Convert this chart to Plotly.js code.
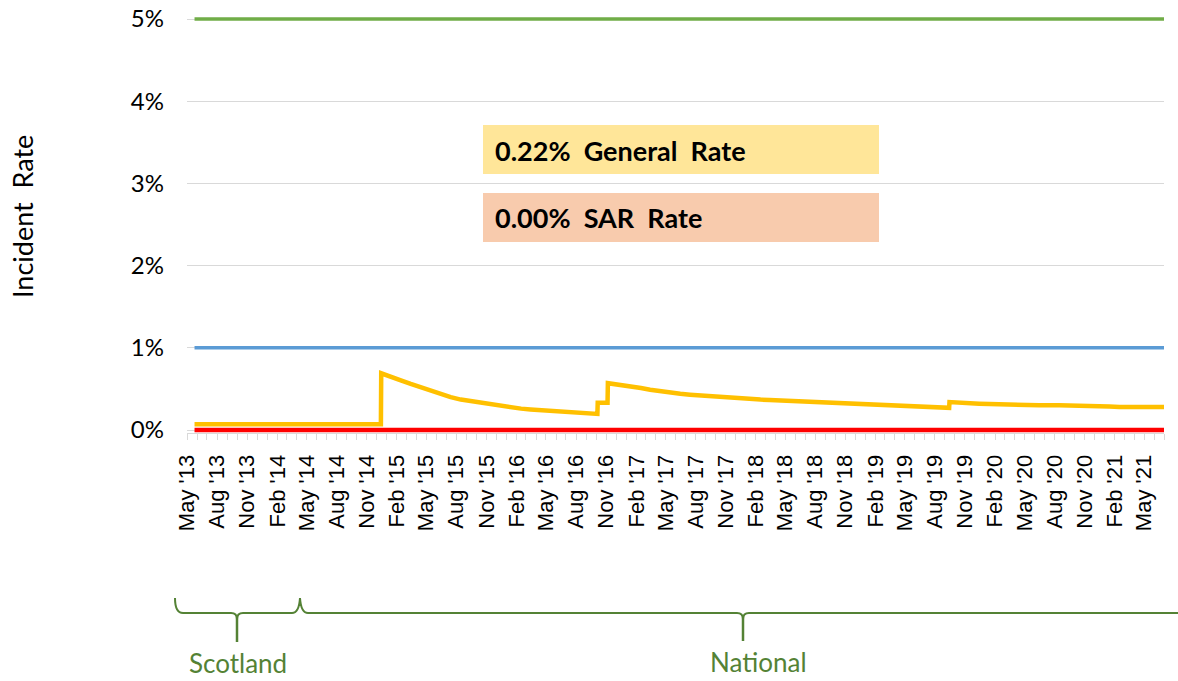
<!DOCTYPE html>
<html>
<head>
<meta charset="utf-8">
<script src="https://cdn.plot.ly/plotly-3.0.1.min.js"></script>
<style>html,body{margin:0;padding:0;background:#fff;}#chart{width:1178px;height:681px;}</style>
</head>
<body>
<div id="chart"></div>
<script>
// ---- data ----
var generalDates = ["2013-05-24","2014-12-14","2014-12-15","2015-01-15","2015-02-15","2015-03-15","2015-04-15","2015-05-15","2015-06-15","2015-07-15","2015-08-15","2015-09-15","2015-10-15","2015-11-15","2015-12-15","2016-01-15","2016-02-15","2016-03-15","2016-04-15","2016-05-15","2016-06-15","2016-07-15","2016-08-15","2016-09-15","2016-10-05","2016-10-06","2016-11-05","2016-11-06","2016-12-15","2017-01-15","2017-02-15","2017-03-15","2017-04-15","2017-05-15","2017-06-15","2017-07-15","2017-08-15","2017-09-15","2017-10-15","2017-11-15","2017-12-15","2018-01-15","2018-02-15","2018-03-15","2018-04-15","2018-05-15","2018-06-15","2018-07-15","2018-08-15","2018-09-15","2018-10-15","2018-11-15","2018-12-15","2019-01-15","2019-02-15","2019-03-15","2019-04-15","2019-05-15","2019-06-15","2019-07-15","2019-08-15","2019-09-14","2019-09-15","2019-10-15","2019-11-15","2019-12-15","2020-01-15","2020-02-15","2020-03-15","2020-04-15","2020-06-15","2020-08-15","2020-10-15","2020-11-15","2020-12-15","2021-01-15","2021-02-15","2021-07-01"];
var generalRate = [0.07,0.07,0.69,0.64,0.60,0.56,0.52,0.47,0.43,0.40,0.37,0.35,0.33,0.31,0.29,0.275,0.26,0.25,0.24,0.235,0.225,0.22,0.21,0.20,0.195,0.33,0.33,0.57,0.55,0.53,0.51,0.49,0.47,0.455,0.44,0.43,0.42,0.41,0.40,0.395,0.39,0.38,0.37,0.365,0.36,0.355,0.35,0.345,0.34,0.335,0.33,0.325,0.32,0.315,0.31,0.305,0.30,0.295,0.29,0.285,0.275,0.27,0.34,0.33,0.325,0.32,0.315,0.31,0.305,0.30,0.30,0.30,0.30,0.295,0.29,0.285,0.28,0.28];
var refDates = ["2013-05-24","2021-07-01"];
var sarRate = [0, 0];
var lowerLimit = [1, 1];
var upperLimit = [5, 5];
var yTickVals = [0,1,2,3,4,5];
var yTickText = ["0%","1%","2%","3%","4%","5%"];
var boxTexts = ["0.22%  General  Rate", "0.00%  SAR  Rate"];
var regionLabels = ["Scotland", "National"];
var yTitle = "Incident  Rate";

// ---- layout helpers (pixel -> paper) ----
var L = 187, R = 14, T = 17, B = 248, W = 1178, H = 681;
var pw = W - L - R, ph = H - T - B;
function px(x){ return (x - L) / pw; }
function py(y){ return (H - B - y) / ph; }
function pt(x,y){ return px(x).toFixed(5) + "," + py(y).toFixed(5); }
function sp(s){ return s.replace(/  /g, "&nbsp; "); }

var traces = [
  {x: refDates, y: upperLimit, mode: "lines", line: {color: "#70AD47", width: 3.5}, hoverinfo: "skip"},
  {x: refDates, y: lowerLimit, mode: "lines", line: {color: "#5B9BD5", width: 3.5}, hoverinfo: "skip"},
  {x: refDates, y: sarRate, mode: "lines", line: {color: "#FF0000", width: 4.5}, hoverinfo: "skip"},
  {x: generalDates, y: generalRate, mode: "lines", line: {color: "#FFC000", width: 4.5}, hoverinfo: "skip"}
];

var green = "#548235";
var bracePath = "M" + pt(175,598) + " Q" + pt(175,613) + " " + pt(183,613) +
  " L" + pt(231,613) + " Q" + pt(237,613) + " " + pt(237,619) +
  " Q" + pt(237,613) + " " + pt(243,613) + " L" + pt(292,613) +
  " Q" + pt(299,613) + " " + pt(300,598) + " Q" + pt(301,613) + " " + pt(308,613) +
  " L" + pt(737,613) + " Q" + pt(743,613) + " " + pt(743,619) +
  " Q" + pt(743,613) + " " + pt(749,613) + " L" + pt(1178,613);

var shapes = [
  {type: "rect", xref: "paper", yref: "paper", x0: px(483), x1: px(879), y0: py(174), y1: py(125), fillcolor: "#FFE699", line: {width: 0}, layer: "above"},
  {type: "rect", xref: "paper", yref: "paper", x0: px(483), x1: px(879), y0: py(242), y1: py(193), fillcolor: "#F8CBAD", line: {width: 0}, layer: "above"},
  {type: "path", xref: "paper", yref: "paper", path: bracePath, line: {color: green, width: 2}},
  {type: "line", xref: "paper", yref: "paper", x0: px(237), x1: px(237), y0: py(616), y1: py(642), line: {color: green, width: 2.5}},
  {type: "line", xref: "paper", yref: "paper", x0: px(743), x1: px(743), y0: py(616), y1: py(641), line: {color: green, width: 2.5}}
];

var annotations = [
  {xref: "paper", yref: "paper", x: px(493), y: py(150), xanchor: "left", yanchor: "middle", text: "<b>" + sp(boxTexts[0]) + "</b>", showarrow: false, font: {family: "Lato", size: 27, color: "#000"}},
  {xref: "paper", yref: "paper", x: px(493), y: py(218), xanchor: "left", yanchor: "middle", text: "<b>" + sp(boxTexts[1]) + "</b>", showarrow: false, font: {family: "Lato", size: 27, color: "#000"}},
  {xref: "paper", yref: "paper", x: px(238), y: py(663), xanchor: "center", yanchor: "middle", text: regionLabels[0], showarrow: false, font: {family: "Lato", size: 26, color: green}},
  {xref: "paper", yref: "paper", x: px(758), y: py(662), xanchor: "center", yanchor: "middle", text: regionLabels[1], showarrow: false, font: {family: "Lato", size: 26, color: green}},
  {xref: "paper", yref: "paper", x: px(23), y: py(217), xanchor: "center", yanchor: "middle", textangle: -90, text: sp(yTitle), showarrow: false, font: {family: "Lato", size: 27, color: "#000"}}
];

var yUnit = 411 / 5;
var y0px = 430;
var yBottom = -((H - B) - y0px) / yUnit;
var yTop = yBottom + ph / yUnit;

var layout = {
  width: W, height: H,
  margin: {l: L, r: R, t: T, b: B, pad: 0},
  paper_bgcolor: "#ffffff", plot_bgcolor: "#ffffff",
  showlegend: false,
  xaxis: {
    type: "date",
    range: ["2013-05-01", "2021-07-01"],
    tick0: "2013-05-01", dtick: "M3",
    tickformat: "%b '%y",
    tickangle: -90,
    ticks: "outside", ticklen: 6, tickcolor: "#d9d9d9", tickwidth: 1,
    minor: {dtick: "M1", ticks: "outside", ticklen: 6, tickcolor: "#d9d9d9", tickwidth: 1, showgrid: false},
    ticklabelstandoff: 6,
    showgrid: false, zeroline: false,
    showline: true, linecolor: "#d9d9d9", linewidth: 1,
    tickfont: {family: "Liberation Sans", size: 22, color: "#000"}
  },
  yaxis: {
    range: [yBottom, yTop],
    tickmode: "array", tickvals: yTickVals, ticktext: yTickText,
    ticks: "", ticklabelstandoff: 22,
    showgrid: true, gridcolor: "#d9d9d9", gridwidth: 1,
    zeroline: false, showline: false,
    tickfont: {family: "Lato", size: 24, color: "#000"}
  },
  shapes: shapes,
  annotations: annotations
};

Plotly.newPlot("chart", traces, layout, {displayModeBar: false, staticPlot: true});
</script>
</body>
</html>
